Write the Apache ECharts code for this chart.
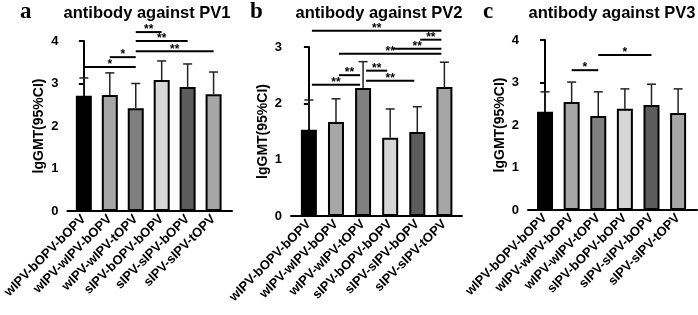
<!DOCTYPE html>
<html>
<head>
<meta charset="utf-8">
<script src="https://cdn.jsdelivr.net/npm/echarts@6/dist/echarts.min.js"></script>
<style>
  html, body { margin: 0; padding: 0; background: #fff; }
  #chart { width: 698px; height: 315px; }
</style>
</head>
<body>
<div id="chart"></div>
<script>
const categories = ["wIPV-bOPV-bOPV", "wIPV-wIPV-bOPV", "wIPV-wIPV-tOPV", "sIPV-bOPV-bOPV", "sIPV-sIPV-bOPV", "sIPV-sIPV-tOPV"];

// lgGMT and upper 95% CI per group
const pv1Gmt = [2.71, 2.73, 2.42, 3.08, 2.92, 2.75];
const pv1Upper = [3.13, 3.25, 3.0, 3.53, 3.46, 3.27];
const pv2Gmt = [1.53, 1.67, 2.27, 1.39, 1.49, 2.29];
const pv2Upper = [2.06, 2.08, 2.74, 1.9, 1.94, 2.73];
const pv3Gmt = [2.31, 2.54, 2.21, 2.38, 2.47, 2.28];
const pv3Upper = [2.78, 3.01, 2.78, 2.85, 2.96, 2.85];

// significance brackets: [from group, to group, height, mark]
const pv1Sig = [[0, 2, 3.39, "*"], [1, 2, 3.62, "*"], [2, 3, 4.21, "**"], [2, 4, 4.0, "**"], [2, 5, 3.76, "**"]];
const pv2Sig = [[0, 5, 3.29, "**"], [4, 5, 3.13, "**"], [3, 5, 2.97, "**"], [1, 5, 2.88, "**"],
  [1, 2, 2.5, "**"], [0, 2, 2.33, "**"], [2, 3, 2.58, "**"], [2, 4, 2.4, "**"]];
const pv3Sig = [[1, 2, 3.29, "*"], [2, 4, 3.65, "*"]];

const yTicksPv1 = [0, 1, 2, 3, 4];
const yTicksPv2 = [0, 1, 2, 3];
const yTicksPv3 = [0, 1, 2, 3, 4];

const barColors = ["#000000", "#a6a6a6", "#808080", "#d6d6d6", "#5c5c5c", "#a6a6a6"];
const FONT = "Liberation Sans, Arial, sans-serif";

const panels = [
  { letter: "a", title: "antibody against PV1", gmt: pv1Gmt, upper: pv1Upper, sig: pv1Sig, ticks: yTicksPv1,
    grid: { left: 62, right: 466, top: 41, bottom: 104 }, xMin: -0.634, xMax: 5.71, letterX: 20, titleX: 147, inset: 0 },
  { letter: "b", title: "antibody against PV2", gmt: pv2Gmt, upper: pv2Upper, sig: pv2Sig, ticks: yTicksPv2,
    grid: { left: 291, right: 236, top: 47, bottom: 99 }, xMin: -0.66, xMax: 5.65, letterX: 250, titleX: 379, inset: 3 },
  { letter: "c", title: "antibody against PV3", gmt: pv3Gmt, upper: pv3Upper, sig: pv3Sig, ticks: yTicksPv3,
    grid: { left: 528, right: 1, top: 40, bottom: 105 }, xMin: -0.64, xMax: 5.71, letterX: 483, titleX: 612, inset: 0 }
];

const chart = echarts.init(document.getElementById("chart"), null, { renderer: "canvas" });

const titles = [], grids = [], xAxes = [], yAxes = [], series = [];

panels.forEach((p, i) => {
  titles.push({
    text: p.letter, left: p.letterX, top: 1, padding: 0,
    textStyle: { fontFamily: "Liberation Serif, Times New Roman, serif", fontWeight: "bold", fontSize: 23, color: "#000" }
  });
  titles.push({
    text: p.title, left: p.titleX, textAlign: "center", top: 5, padding: 0,
    textStyle: { fontFamily: FONT, fontWeight: "bold", fontSize: 16.5, color: "#000" }
  });
  grids.push(p.grid);
  xAxes.push({
    type: "value", gridIndex: i, min: p.xMin, max: p.xMax,
    splitLine: { show: false },
    axisLine: { onZero: false, lineStyle: { color: "#000", width: 2 } },
    axisTick: { show: false },
    axisLabel: {
      customValues: categories.map((c, k) => k),
      formatter: v => categories[v],
      rotate: 45, margin: 6, color: "#000",
      fontFamily: FONT, fontWeight: "bold", fontSize: 13
    }
  });
  yAxes.push({
    type: "value", gridIndex: i, min: 0, max: p.ticks[p.ticks.length - 1], interval: 1,
    name: "lgGMT(95%CI)", nameLocation: "middle", nameGap: 21,
    nameTextStyle: { fontFamily: FONT, fontWeight: "bold", fontSize: 14, color: "#000" },
    splitLine: { show: false },
    axisLine: { show: true, lineStyle: { color: "#000", width: 2 } },
    axisTick: { show: true, length: 5, lineStyle: { color: "#000", width: 2 } },
    axisLabel: { margin: 9, color: "#000", fontFamily: FONT, fontWeight: "bold", fontSize: 13 }
  });

  series.push({
    type: "bar", xAxisIndex: i, yAxisIndex: i, barWidth: 16,
    data: p.gmt.map((v, k) => [k, v]),
    itemStyle: {
      color: params => barColors[params.dataIndex],
      borderColor: "#000", borderWidth: 2
    },
    z: 2
  });

  // upper whisker of the 95% CI
  series.push({
    type: "custom", xAxisIndex: i, yAxisIndex: i, z: 3,
    data: p.gmt.map((v, k) => [k, v, p.upper[k]]),
    renderItem: (params, api) => {
      const lo = api.coord([api.value(0), api.value(1)]);
      const hi = api.coord([api.value(0), api.value(2)]);
      const style = { stroke: "#222", lineWidth: 1.5 };
      return {
        type: "group",
        children: [
          { type: "line", shape: { x1: lo[0], y1: lo[1], x2: hi[0], y2: hi[1] }, style },
          { type: "line", shape: { x1: hi[0] - 4.5, y1: hi[1], x2: hi[0] + 4.5, y2: hi[1] }, style }
        ]
      };
    }
  });

  // significance brackets, drawn above the axis max too
  series.push({
    type: "custom", xAxisIndex: i, yAxisIndex: i, z: 4, clip: false,
    data: p.sig.map(s => [s[0], s[1], s[2]]),
    renderItem: (params, api) => {
      const s = p.sig[params.dataIndex];
      const a = api.coord([s[0], s[2]]);
      const b = api.coord([s[1], s[2]]);
      const x1 = a[0] + p.inset, x2 = b[0] - p.inset;
      return {
        type: "group",
        children: [
          { type: "line", shape: { x1, y1: a[1], x2, y2: a[1] }, style: { stroke: "#000", lineWidth: 2 } },
          { type: "text", x: (x1 + x2) / 2, y: a[1] + 4,
            style: { text: s[3], fill: "#000", fontFamily: FONT, fontWeight: "bold", fontSize: 12,
              align: "center", verticalAlign: "bottom" } }
        ]
      };
    }
  });
});

chart.setOption({
  animation: false,
  backgroundColor: "#fff",
  title: titles,
  grid: grids,
  xAxis: xAxes,
  yAxis: yAxes,
  series
});
</script>
</body>
</html>
